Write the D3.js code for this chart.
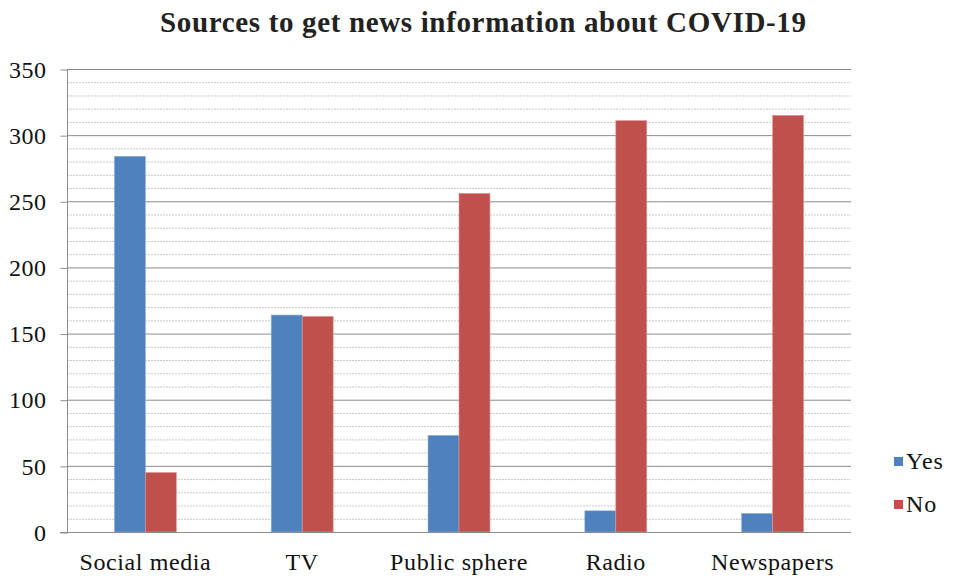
<!DOCTYPE html>
<html><head><meta charset="utf-8">
<script src="https://cdn.jsdelivr.net/npm/d3@7"></script>
<style>body{margin:0;background:#fff}svg{display:block}</style>
</head><body>
<script>
const categories = ["Social media","TV","Public sphere","Radio","Newspapers"];
const seriesNames = ["Yes","No"];
const yesValues = [284,164,73,16,14];
const noValues = [45,163,256,311,315];
const majorTicks = [0,50,100,150,200,250,300,350];
const minorTicks = d3.range(0,351,10);
const colors = ["#4F81BD","#C0504D"];
const title = "Sources to get news information about COVID-19";

const FONT='"Liberation Serif","Times New Roman",Times,serif';
const W=954,H=576;
const m={left:67,right:103,top:69,bottom:44};
const svg=d3.select("body").append("svg").attr("width",W).attr("height",H);
const x0=d3.scaleBand().domain(categories).range([m.left,W-m.right]).paddingInner(0.605).paddingOuter(0.3025);
const x1=d3.scaleBand().domain(seriesNames).range([0,x0.bandwidth()]);
const y=d3.scaleLinear().domain([0,350]).range([H-m.bottom,m.top]);

// minor grid
svg.append("g").selectAll("line").data(minorTicks.filter(t=>t%50!==0)).join("line")
 .attr("x1",m.left).attr("x2",W-m.right).attr("y1",d=>y(d)+0.5).attr("y2",d=>y(d)+0.5)
 .attr("stroke","#c8c8c8").attr("stroke-width",1).attr("stroke-dasharray","2,1");
// major grid
svg.append("g").selectAll("line").data(majorTicks.filter(t=>t>0)).join("line")
 .attr("x1",m.left).attr("x2",W-m.right).attr("y1",d=>y(d)+0.5).attr("y2",d=>y(d)+0.5)
 .attr("stroke","#8c8c8c").attr("stroke-width",1);

const data=categories.map((c,i)=>({c,vals:[yesValues[i],noValues[i]]}));
const g=svg.append("g").selectAll("g").data(data).join("g").attr("transform",d=>`translate(${x0(d.c)},0)`);
g.selectAll("rect").data(d=>d.vals.map((v,j)=>({v,s:seriesNames[j],j}))).join("rect")
 .attr("x",d=>x1(d.s)).attr("width",x1.bandwidth()).attr("y",d=>y(d.v)).attr("height",d=>y(0)-y(d.v))
 .attr("fill",d=>colors[d.j]).attr("stroke",d=>d.j===0?"#8fb0da":"#e09896").attr("stroke-width",0.6);

// y axis
const ya=d3.axisLeft(y).tickValues(majorTicks).tickSize(7).tickPadding(14);
const yg=svg.append("g").attr("transform",`translate(${m.left+0.5},0)`).call(ya);
yg.attr("font-family",FONT).attr("font-size",24);
yg.select(".domain").attr("stroke","#8c8c8c").attr("d",`M0,${y(350)}V${y(0)}`);
yg.selectAll(".tick line").attr("stroke","#8c8c8c").attr("transform","translate(0,0.5)");
yg.selectAll(".tick text").style("font-family",FONT).style("font-size","24px").style("letter-spacing","0.5px").attr("fill","#111").attr("dy","0.34em");
// x axis
const xa=d3.axisBottom(x0).tickSize(0).tickPadding(20);
const xg=svg.append("g").attr("transform",`translate(0,${y(0)+0.5})`).call(xa);
xg.attr("font-family",FONT).attr("font-size",24);
xg.select(".domain").attr("stroke","#8c8c8c").attr("d",`M${m.left-7},0H${W-m.right}`);
xg.selectAll(".tick text").style("font-family",FONT).style("font-size","24px").style("letter-spacing","0.6px").attr("fill","#111");

// title
svg.append("text").style("font-family",FONT).attr("x",483).attr("y",32).attr("text-anchor","middle")
 .attr("textLength",646).attr("lengthAdjust","spacing")
 .style("font-weight","bold").style("font-size","29px").attr("fill","#222").text(title);

// legend
const lg=svg.append("g").selectAll("g").data(seriesNames).join("g")
 .attr("transform",(d,i)=>`translate(894,${469+i*43})`);
lg.append("rect").attr("x",0).attr("y",-12).attr("width",9).attr("height",9).attr("fill",(d,i)=>colors[i]);
lg.append("text").style("font-family",FONT).attr("x",12).attr("y",0).style("font-size","24px").style("letter-spacing","1px").attr("fill","#111").text(d=>d);
</script>
</body></html>
